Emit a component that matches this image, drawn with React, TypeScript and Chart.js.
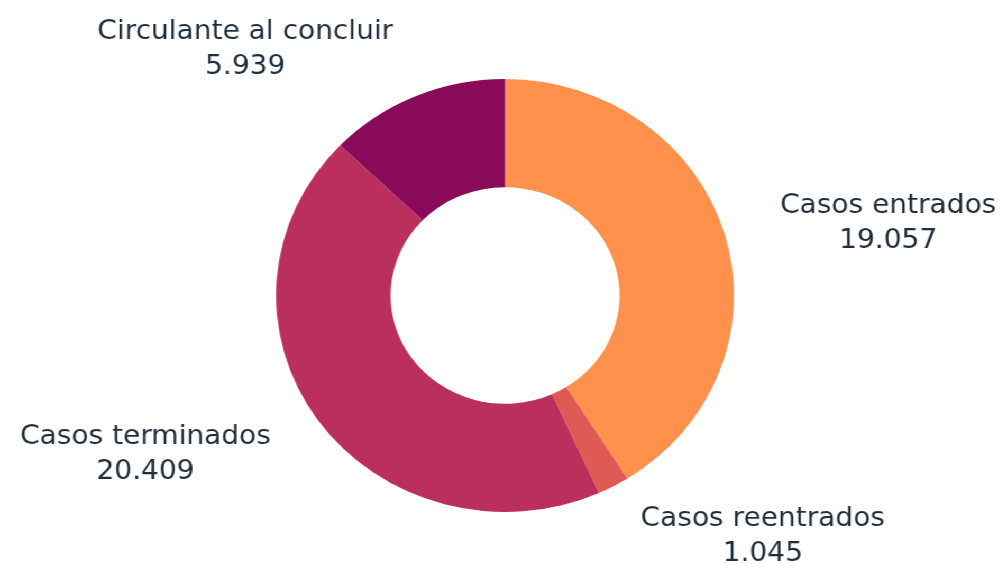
import React, { useEffect, useRef } from "react";
import { Chart, registerables } from "chart.js";

Chart.register(...registerables);

const categories: string[] = [
  "Casos entrados",
  "Casos reentrados",
  "Casos terminados",
  "Circulante al concluir",
];
const values: number[] = [19057, 1045, 20409, 5939];
const colors: string[] = ["#FF914D", "#E05A55", "#BA2F5B", "#8A0A5A"];

const STRETCH = 1007 / 952;

function fmt(n: number): string {
  return String(n).replace(/\B(?=(\d{3})+(?!\d))/g, ".");
}

const labelPlugin = {
  id: "outsideLabels",
  afterDatasetsDraw(chart: any) {
    const ctx = chart.ctx as CanvasRenderingContext2D;
    const meta = chart.getDatasetMeta(0);
    ctx.save();
    ctx.font = '26.5px "DejaVu Sans"';
    ctx.fillStyle = "#1E2D3B";
    ctx.textBaseline = "alphabetic";
    meta.data.forEach((arc: any, i: number) => {
      const p = arc.getProps(["x", "y", "startAngle", "endAngle", "outerRadius"], true);
      const mid = (p.startAngle + p.endAngle) / 2;
      const ax = p.x + Math.cos(mid) * p.outerRadius * 1.25;
      const ay = p.y + Math.sin(mid) * p.outerRadius * 1.25;
      const l1 = categories[i];
      const l2 = fmt(values[i]);
      const w1 = ctx.measureText(l1).width;
      const w2 = ctx.measureText(l2).width;
      const bw = Math.max(w1, w2);
      const right = Math.cos(mid) >= 0;
      const cx = right ? ax + bw / 2 : ax - bw / 2;
      ctx.textAlign = "center";
      ctx.fillText(l1, cx, ay - 7.5);
      ctx.fillText(l2, cx, ay + 27.5);
    });
    ctx.restore();
  },
};

export default function App() {
  const ref = useRef<HTMLCanvasElement | null>(null);

  useEffect(() => {
    document.body.style.margin = "0";
    if (!ref.current) return;
    const chart = new Chart(ref.current, {
      type: "doughnut",
      data: {
        labels: categories,
        datasets: [
          {
            data: values,
            backgroundColor: colors,
            borderWidth: 0,
          },
        ],
      },
      options: {
        animation: false,
        responsive: true,
        maintainAspectRatio: false,
        cutout: "50%",
        layout: { padding: { top: 79, bottom: 52, left: 261, right: 258 } },
        plugins: {
          legend: { display: false },
          tooltip: { enabled: false },
        },
      },
      plugins: [labelPlugin],
    });
    return () => chart.destroy();
  }, []);

  return (
    <div
      style={{
        position: "absolute",
        left: 0,
        top: 0,
        width: 952,
        height: 564,
        transform: `scaleX(${STRETCH})`,
        transformOrigin: "0 0",
        background: "#fff",
      }}
    >
      <canvas ref={ref} />
    </div>
  );
}
